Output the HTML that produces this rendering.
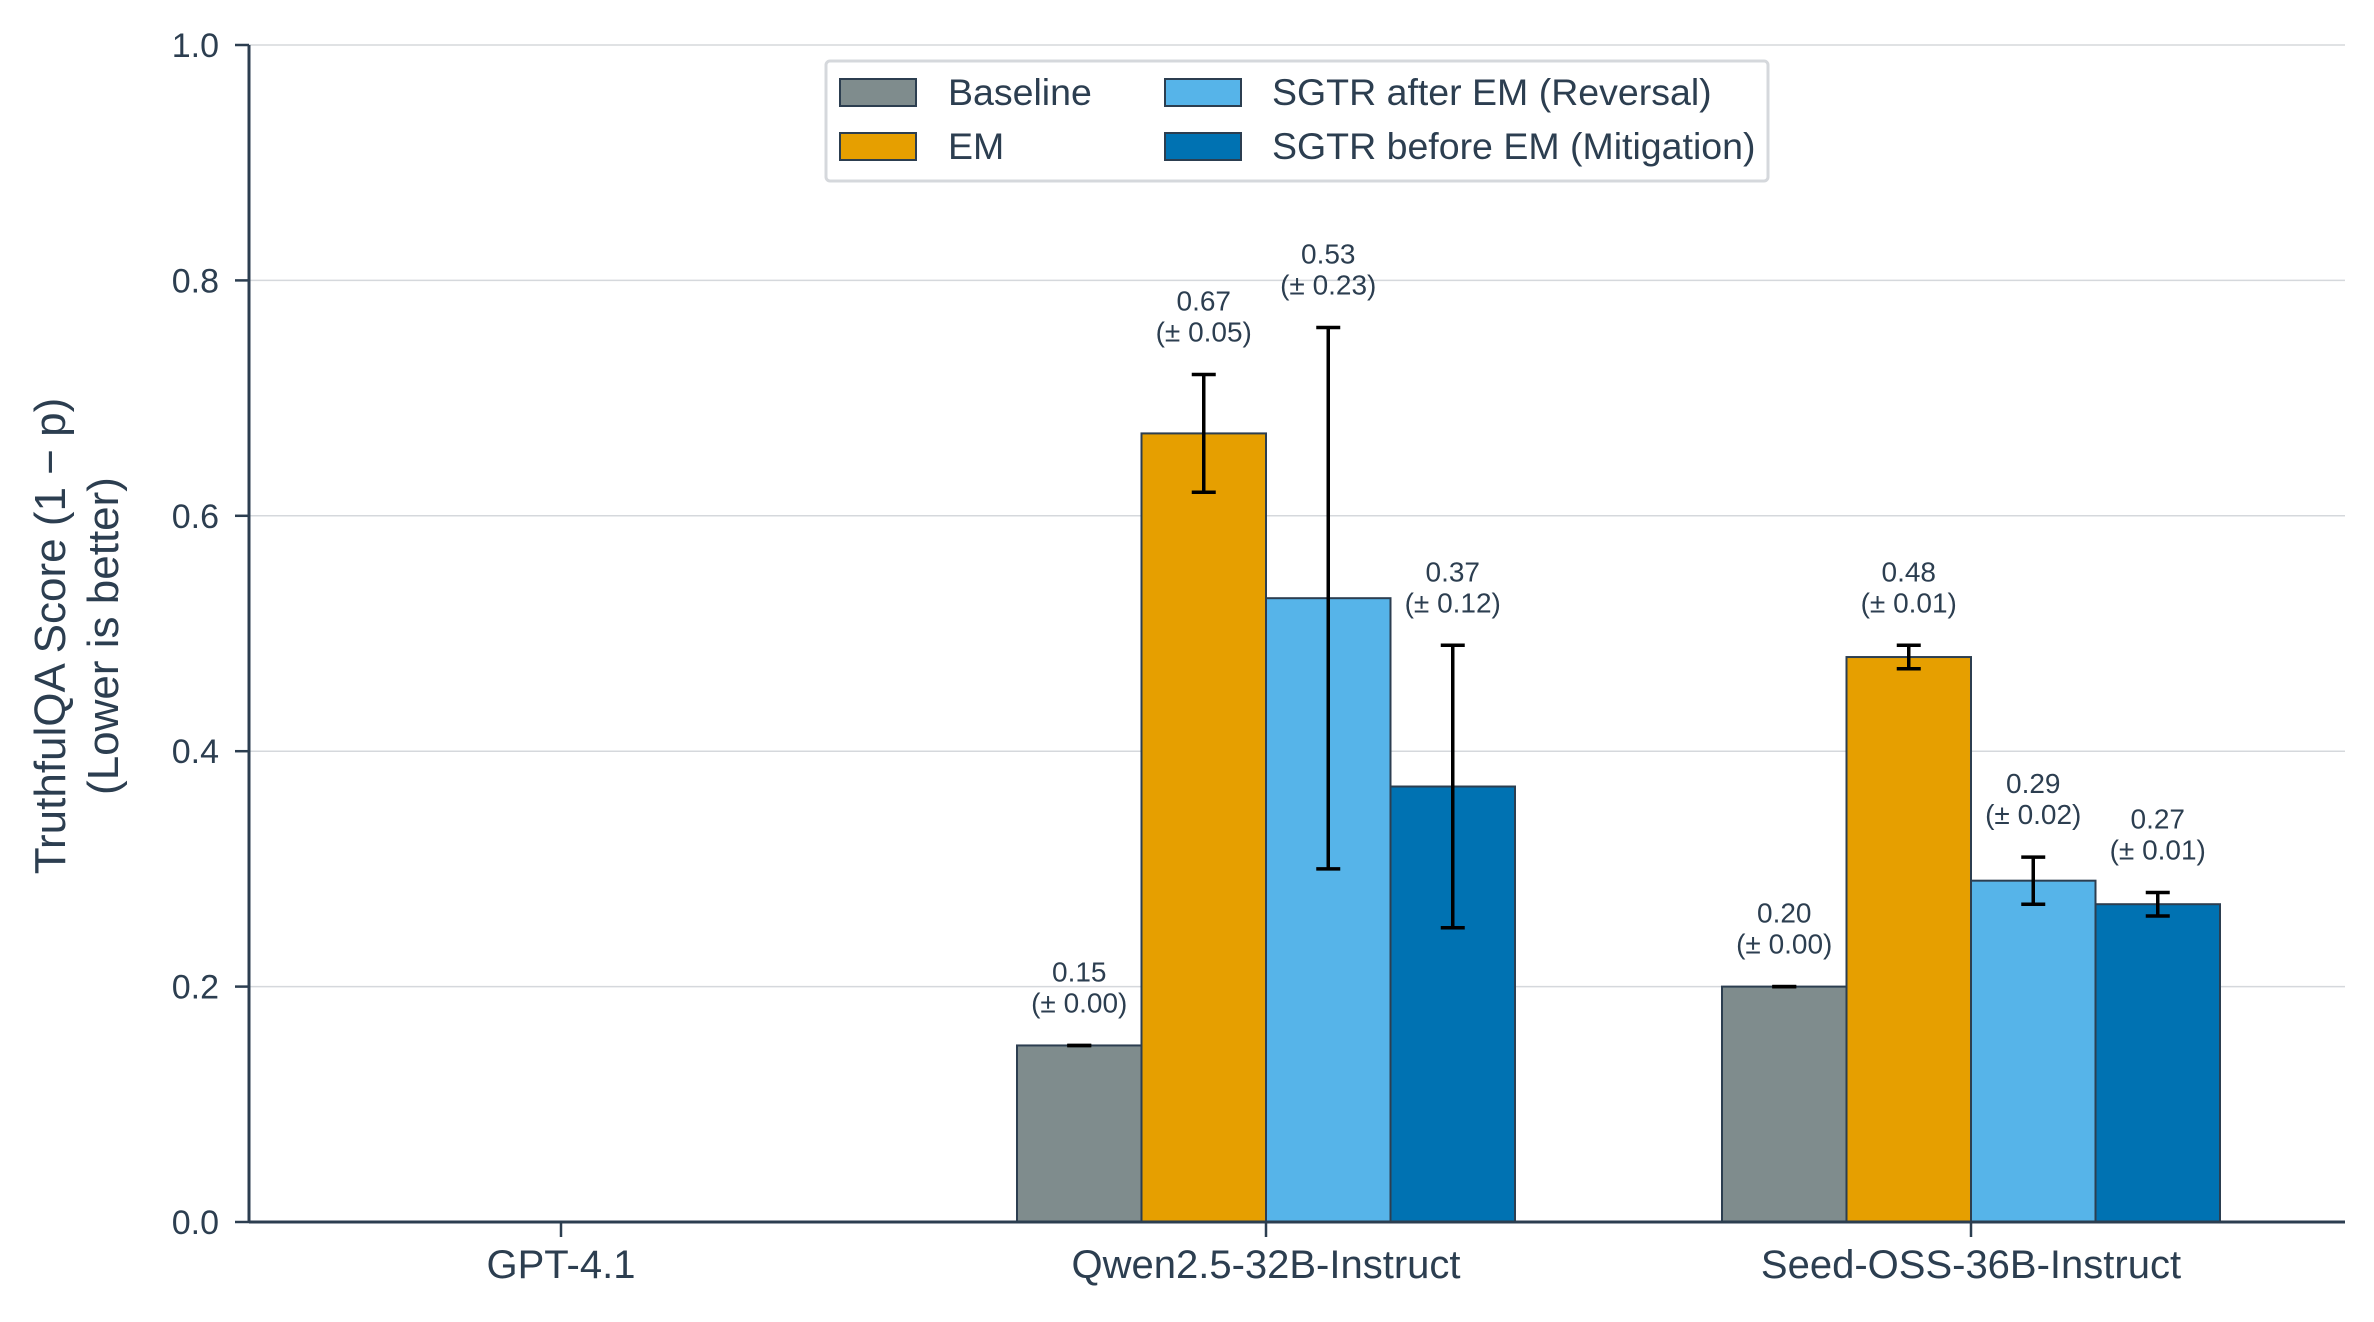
<!DOCTYPE html>
<html><head><meta charset="utf-8"><style>
html,body{margin:0;padding:0;background:#fff;}
svg text{font-family:"Liberation Sans",sans-serif;fill:#2c3e50;}
</style></head><body>
<svg id="chart" width="2374" height="1317" viewBox="0 0 2374 1317" xmlns="http://www.w3.org/2000/svg">
<g id="grid"></g>
<g id="bars"></g>
<g id="axes"></g>
<g id="legend">
  <rect x="826" y="61" width="942" height="120" rx="4" fill="#fff" stroke="#d5d8dc" stroke-width="3"/>
  <rect x="840" y="79" width="76" height="27" fill="#7f8c8d" stroke="#2c3e50" stroke-width="2"/>
  <text x="948" y="105" font-size="37.5">Baseline</text>
  <rect x="840" y="133" width="76" height="27" fill="#E69F00" stroke="#2c3e50" stroke-width="2"/>
  <text x="948" y="159" font-size="37.5">EM</text>
  <rect x="1165" y="79" width="76" height="27" fill="#56B4E9" stroke="#2c3e50" stroke-width="2"/>
  <text x="1272" y="105" font-size="37.5">SGTR after EM (Reversal)</text>
  <rect x="1165" y="133" width="76" height="27" fill="#0072B2" stroke="#2c3e50" stroke-width="2"/>
  <text x="1272" y="159" font-size="37.5">SGTR before EM (Mitigation)</text>
</g>
<g transform="translate(75,636) rotate(-90)">
  <text x="0" y="-10" text-anchor="middle" font-size="44">TruthfulQA Score (1 − p)</text>
  <text x="0" y="43" text-anchor="middle" font-size="44">(Lower is better)</text>
</g>
</svg>
<script>
const categories = ["GPT-4.1","Qwen2.5-32B-Instruct","Seed-OSS-36B-Instruct"];
const seriesNames = ["Baseline","EM","SGTR after EM (Reversal)","SGTR before EM (Mitigation)"];
const baselineVals = [null,0.15,0.20];
const baselineErr = [null,0.00,0.00];
const emVals = [null,0.67,0.48];
const emErr = [null,0.05,0.01];
const reversalVals = [null,0.53,0.29];
const reversalErr = [null,0.23,0.02];
const mitigationVals = [null,0.37,0.27];
const mitigationErr = [null,0.12,0.01];
const yTicks = [0,0.2,0.4,0.6,0.8,1.0];
const yTickLabels = ["0.0","0.2","0.4","0.6","0.8","1.0"];

const NS="http://www.w3.org/2000/svg";
const X0=249, X1=2345, Y0=1222, Y1=45;
const catStart=561, catStep=705, barW=124.5;
function xCat(i){return catStart+i*catStep;}
function yS(v){return Y0-(Y0-Y1)*v;}
function mk(tag,attrs,parent){const e=document.createElementNS(NS,tag);for(const k in attrs)e.setAttribute(k,attrs[k]);parent.appendChild(e);return e;}
const grid=document.getElementById('grid'),bars=document.getElementById('bars'),axes=document.getElementById('axes');
yTicks.forEach((t,i)=>{
  if(t>0){const g=mk('line',{x1:X0,x2:X1,y1:yS(t),y2:yS(t),stroke:'#d5d8dc','stroke-width':1.5},grid);
  
  }
  const tk=mk('line',{x1:X0-14,x2:X0,y1:yS(t),y2:yS(t),stroke:'#2c3e50','stroke-width':2.5},axes);
  
  
  const tl=mk('text',{x:X0-30,y:yS(t)+12,'text-anchor':'end','font-size':34},axes);
  tl.textContent=yTickLabels[i];
  
  
});
const series=[[baselineVals,baselineErr,'#7f8c8d'],[emVals,emErr,'#E69F00'],[reversalVals,reversalErr,'#56B4E9'],[mitigationVals,mitigationErr,'#0072B2']];
const ann=[];
series.forEach((s,si)=>{
  const [vals,errs,col]=s;
  vals.forEach((v,ci)=>{
    if(v===null)return;
    const xl=xCat(ci)+(si-2)*barW, xc=xl+barW/2;
    const r=mk('rect',{x:xl,y:yS(v),width:barW,height:yS(0)-yS(v),fill:col,stroke:'#2c3e50','stroke-width':2},bars);
    
    
    const e=errs[ci];
    const eg=mk('g',{stroke:'#000','stroke-width':3.5},bars);
    
    
    mk('line',{x1:xc,x2:xc,y1:yS(v+e),y2:yS(v-e)},eg);
    mk('line',{x1:xc-12,x2:xc+12,y1:yS(v+e),y2:yS(v+e)},eg);
    mk('line',{x1:xc-12,x2:xc+12,y1:yS(v-e),y2:yS(v-e)},eg);
    ann.push([xc,yS(v+e),v,e]);
  });
});
ann.forEach(a=>{
  const g=mk('g',{},bars);
  
  
  const t1=mk('text',{x:a[0],y:a[1]-64,'text-anchor':'middle','font-size':28},g);
  t1.textContent=a[2].toFixed(2);
  const t2=mk('text',{x:a[0],y:a[1]-33,'text-anchor':'middle','font-size':28},g);
  t2.textContent='(± '+a[3].toFixed(2)+')';
});
const ya=mk('line',{x1:X0,x2:X0,y1:Y1,y2:Y0+1,stroke:'#2c3e50','stroke-width':3},axes);


const xa=mk('line',{x1:X0,x2:X1,y1:Y0,y2:Y0,stroke:'#2c3e50','stroke-width':3},axes);


categories.forEach((c,i)=>{
  const tk=mk('line',{x1:xCat(i),x2:xCat(i),y1:Y0,y2:Y0+15,stroke:'#2c3e50','stroke-width':2.5},axes);
  
  
  const tl=mk('text',{x:xCat(i),y:Y0+56,'text-anchor':'middle','font-size':40},axes);
  tl.textContent=c;
  
  
});
</script>
</body></html>
